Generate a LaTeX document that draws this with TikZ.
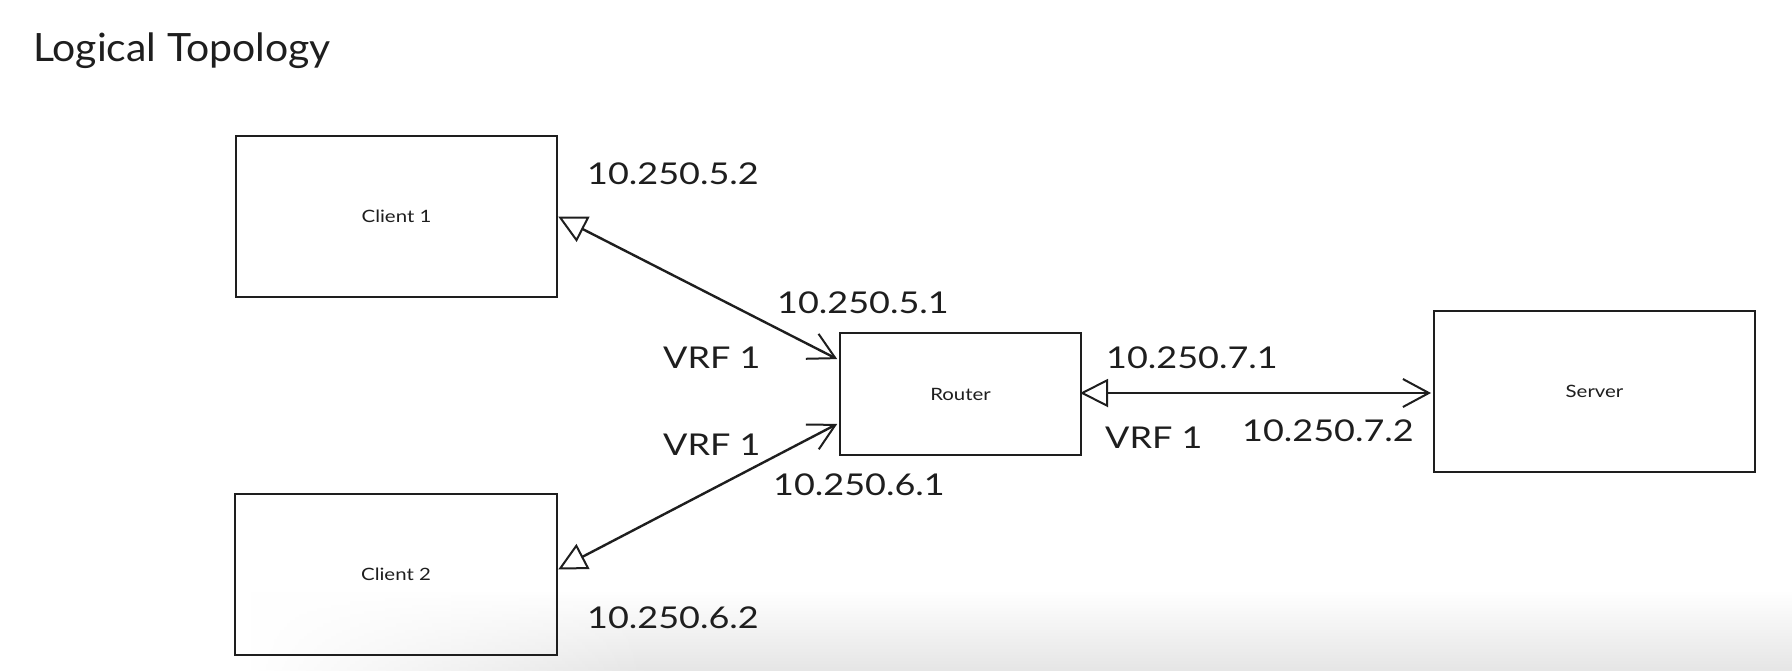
\documentclass[tikz,border=0pt]{standalone}
\usepackage{fontspec}
\setmainfont{Lato}
\newfontfamily\hand[FakeStretch=1.2]{Lato}
\newfontfamily\handtitle[FakeStretch=1.05]{Lato}
\usetikzlibrary{arrows.meta,fadings}
\definecolor{ink}{HTML}{1E1E1E}
\tikzset{
  box/.style={draw=ink, line width=2pt, rectangle, inner sep=0pt, font=\hand\fontsize{17}{20}\selectfont, text=ink},
  lbl/.style={anchor=west, inner sep=0pt, font=\hand\fontsize{30}{34}\selectfont, text=ink},
  link/.style={draw=ink, line width=2.4pt},
  tri/.tip={Triangle[open, length=28pt, width=28pt, line width=2pt]},
  barb/.tip={Straight Barb[length=26pt, width=28pt, line width=2pt]}
}
\begin{document}
\begin{tikzpicture}[x=1pt,y=-1pt]
\useasboundingbox (0,0) rectangle (1792,670);
\fill[white] (0,0) rectangle (1792,670);
% bottom shadow band
\shade[top color=white, bottom color=black!10] (650,590) rectangle (1792,670);
\shade[top color=white, bottom color=black!10, path fading=west] (250,590) rectangle (651,670);

\node[anchor=west, inner sep=0pt, font=\handtitle\fontsize{39}{44}\selectfont, text=ink] (title) at (33,51) {Logical Topology};

\node[box, minimum width=321pt, minimum height=161pt] (c1) at (396.5,216.5) {Client 1};
\node[box, minimum width=322pt, minimum height=161pt] (c2) at (396,574.5) {Client 2};
\node[box, minimum width=241pt, minimum height=122pt] (r) at (960.5,394) {Router};
\node[box, minimum width=321pt, minimum height=161pt] (s) at (1594.5,391.5) {Server};

\draw[link, tri-barb, shorten <=-2pt, shorten >=2pt] ([xshift=2pt,yshift=-1pt]c1.east) -- ([yshift=34pt]r.west);
\draw[link, tri-barb, shorten <=-2pt, shorten >=2pt] ([xshift=2pt,yshift=6pt]c2.east) -- ([yshift=-29pt]r.west);
\draw[link, tri-barb, shorten <=-2pt, shorten >=2pt] ([yshift=1pt]r.east) -- ([yshift=1pt]r.east -| s.west);

\node[lbl] (a52) at (587,174) {10.250.5.2};
\node[lbl] (a51) at (777,303) {10.250.5.1};
\node[lbl] (v1) at (663,358) {VRF 1};
\node[lbl] (v2) at (663,445) {VRF 1};
\node[lbl] (a61) at (773,485) {10.250.6.1};
\node[lbl] (a62) at (587,618) {10.250.6.2};
\node[lbl] (a71) at (1106,358) {10.250.7.1};
\node[lbl] (v3) at (1105,438) {VRF 1};
\node[lbl] (a72) at (1242,431) {10.250.7.2};
\end{tikzpicture}
\end{document}
